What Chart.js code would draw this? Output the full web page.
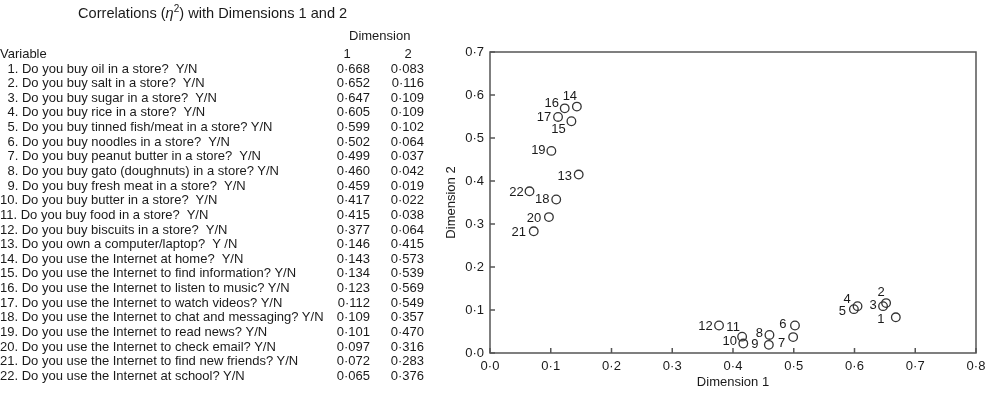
<!DOCTYPE html>
<html>
<head>
<meta charset="utf-8">
<script src="https://cdn.jsdelivr.net/npm/chart.js@4/dist/chart.umd.min.js"></script>
<style>
  html, body { margin: 0; padding: 0; background: #fff; }
  body { width: 985px; height: 394px; position: relative; overflow: hidden;
         font-family: "Liberation Sans", Arial, sans-serif; font-size: 13px; color: #1a1a1a; }
  #wrap { position: absolute; left: 0; top: 0; width: 985px; height: 394px; }
  #tbl div { position: absolute; white-space: pre; line-height: 15px; }
</style>
</head>
<body>
<div id="wrap"><canvas id="chart" width="985" height="394"></canvas></div>
<div id="tbl"></div>
<script>
// values (table + scatter share them)
var questions = [
  'Do you buy oil in a store?  Y/N',
  'Do you buy salt in a store?  Y/N',
  'Do you buy sugar in a store?  Y/N',
  'Do you buy rice in a store?  Y/N',
  'Do you buy tinned fish/meat in a store? Y/N',
  'Do you buy noodles in a store?  Y/N',
  'Do you buy peanut butter in a store?  Y/N',
  'Do you buy gato (doughnuts) in a store? Y/N',
  'Do you buy fresh meat in a store?  Y/N',
  'Do you buy butter in a store?  Y/N',
  'Do you buy food in a store?  Y/N',
  'Do you buy biscuits in a store?  Y/N',
  'Do you own a computer/laptop?  Y /N',
  'Do you use the Internet at home?  Y/N',
  'Do you use the Internet to find information? Y/N',
  'Do you use the Internet to listen to music? Y/N',
  'Do you use the Internet to watch videos? Y/N',
  'Do you use the Internet to chat and messaging? Y/N',
  'Do you use the Internet to read news? Y/N',
  'Do you use the Internet to check email? Y/N',
  'Do you use the Internet to find new friends? Y/N',
  'Do you use the Internet at school? Y/N'
];
var dim1 = [0.668, 0.652, 0.647, 0.605, 0.599, 0.502, 0.499, 0.460, 0.459, 0.417, 0.415,
            0.377, 0.146, 0.143, 0.134, 0.123, 0.112, 0.109, 0.101, 0.097, 0.072, 0.065];
var dim2 = [0.083, 0.116, 0.109, 0.109, 0.102, 0.064, 0.037, 0.042, 0.019, 0.022, 0.038,
            0.064, 0.415, 0.573, 0.539, 0.569, 0.549, 0.357, 0.470, 0.316, 0.283, 0.376];
var xTicksMax = 0.8;
var yTicksMax = 0.7;

// where each number label sits relative to its circle (px)
var labelOffsets = [
  [-15, 2], [-5, -11], [-10, -1], [-10.5, -7], [-11.5, 2], [-12, -1], [-11.5, 6.5],
  [-10, -2], [-14, 0], [-13.5, -2], [-9, -9], [-13.5, 1], [-14, 2], [-7, -10],
  [-13, 8.5], [-13, -5], [-14, 0], [-14, 0], [-13, 0], [-15, 1], [-15, 1], [-13, 1]
];

function fmt(v) { return v.toFixed(3).replace('.', '\u00b7'); }

// ---- left table
var tbl = document.getElementById('tbl');
function put(txt, left, cy, extra) {
  var d = document.createElement('div');
  d.innerHTML = txt;
  d.style.left = left + 'px';
  d.style.top = (cy - 7.5) + 'px';
  if (extra) Object.assign(d.style, extra);
  tbl.appendChild(d);
}
put('Correlations (<i>\u03b7</i><sup style="font-size:10px;line-height:0">2</sup>) with Dimensions 1 and 2', 78, 14,
    { fontSize: '14.6px', lineHeight: '17px', top: '5px' });
put('Dimension', 349, 35);
put('Variable', 0, 53);
put('1', 330, 53, { width: '34px', textAlign: 'center' });
put('2', 391, 53, { width: '34px', textAlign: 'center' });
for (var i = 0; i < questions.length; i++) {
  var cy = 68 + i * 14.64;
  put((i + 1) + '. ' + questions[i], i < 9 ? 7.5 : 0, cy);
  put(fmt(dim1[i]), 320, cy, { width: '50px', textAlign: 'right' });
  put(fmt(dim2[i]), 374, cy, { width: '50px', textAlign: 'right' });
}

// ---- scatter
Chart.defaults.font.family = '"Liberation Sans", Arial, sans-serif';
Chart.defaults.font.size = 13;
Chart.defaults.color = '#1a1a1a';

var frame = {
  id: 'frame',
  beforeDatasetsDraw: function (chart) {
    var a = chart.chartArea, c = chart.ctx;
    var xs = chart.scales.x, ys = chart.scales.y;
    c.save();
    c.strokeStyle = '#555';
    c.lineWidth = 1.5;
    c.strokeRect(a.left, a.top, a.right - a.left, a.bottom - a.top);
    c.beginPath();
    xs.ticks.forEach(function (t) {
      var px = xs.getPixelForValue(t.value);
      c.moveTo(px, a.bottom); c.lineTo(px, a.bottom - 5);
    });
    ys.ticks.forEach(function (t) {
      var py = ys.getPixelForValue(t.value);
      c.moveTo(a.left, py); c.lineTo(a.left + 5, py);
    });
    c.stroke();
    c.restore();
  }
};

var pointLabels = {
  id: 'pointLabels',
  afterDatasetsDraw: function (chart) {
    var c = chart.ctx;
    var meta = chart.getDatasetMeta(0);
    c.save();
    c.font = '13px "Liberation Sans", Arial, sans-serif';
    c.fillStyle = '#1a1a1a';
    c.textAlign = 'center';
    c.textBaseline = 'middle';
    meta.data.forEach(function (el, i) {
      var o = labelOffsets[i];
      c.fillText(String(i + 1), el.x + o[0], el.y + o[1]);
    });
    c.restore();
  }
};

new Chart(document.getElementById('chart'), {
  type: 'scatter',
  data: {
    datasets: [{
      data: dim1.map(function (v, i) { return { x: v, y: dim2[i] }; }),
      pointStyle: 'circle',
      pointRadius: 4.3,
      pointBorderWidth: 1.3,
      borderColor: '#333',
      backgroundColor: 'rgba(255,255,255,0)'
    }]
  },
  options: {
    responsive: false,
    animation: false,
    layout: { padding: { left: 440, top: 52, right: 9, bottom: 0 } },
    plugins: { legend: { display: false }, tooltip: { enabled: false } },
    scales: {
      x: {
        min: 0, max: xTicksMax,
        grid: { display: false, drawTicks: false },
        border: { display: false },
        ticks: { stepSize: 0.1, padding: 6, maxRotation: 0,
                 callback: function (v) { return v.toFixed(1).replace('.', '\u00b7'); } },
        title: { display: true, text: 'Dimension 1', padding: { top: 4, bottom: 4 } },
        afterFit: function (s) { s.height = 41; s.paddingLeft = 0; s.paddingRight = 0; }
      },
      y: {
        min: 0, max: yTicksMax,
        grid: { display: false, drawTicks: false },
        border: { display: false },
        ticks: { stepSize: 0.1, padding: 6,
                 callback: function (v) { return v.toFixed(1).replace('.', '\u00b7'); } },
        title: { display: true, text: 'Dimension 2', padding: { top: 4, bottom: 4 } },
        afterFit: function (s) { s.width = 50; s.paddingTop = 0; s.paddingBottom = 0; }
      }
    }
  },
  plugins: [frame, pointLabels]
});
</script>
</body>
</html>
